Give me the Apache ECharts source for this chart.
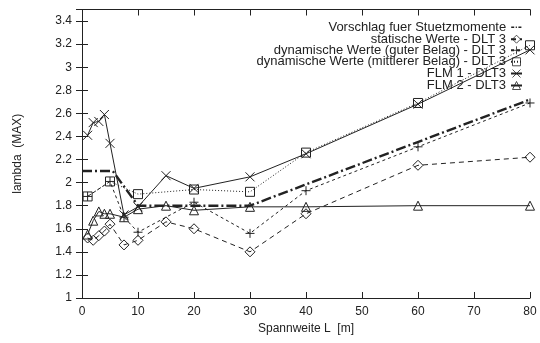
<!DOCTYPE html>
<html>
<head>
<meta charset="utf-8">
<script src="https://cdn.jsdelivr.net/npm/echarts@6/dist/echarts.min.js"></script>
<style>html,body{margin:0;padding:0;background:#fff}#c{width:540px;height:343px}</style>
</head>
<body>
<div id="c"></div>
<script>
// ---- data ----
const seriesNames = [
  'Vorschlag fuer Stuetzmomente',
  'statische Werte - DLT 3',
  'dynamische Werte (guter Belag) - DLT 3',
  'dynamische Werte (mittlerer Belag) - DLT 3',
  'FLM 1 - DLT3',
  'FLM 2 - DLT3'
];
const vorschlagX = [0, 5.5, 10, 30, 80];
const vorschlagY = [2.1, 2.1, 1.8, 1.8, 2.72];
const statischX = [1, 2, 3, 4, 5, 7.5, 10, 15, 20, 30, 40, 60, 80];
const statischY = [1.52, 1.50, 1.54, 1.58, 1.64, 1.46, 1.50, 1.66, 1.60, 1.40, 1.73, 2.15, 2.22];
const guterX = [1, 5, 7.5, 10, 20, 30, 40, 60, 80];
const guterY = [1.88, 2.01, 1.70, 1.57, 1.83, 1.56, 1.93, 2.31, 2.69];
const mittlererX = [1, 5, 10, 20, 30, 40, 60, 80];
const mittlererY = [1.88, 2.01, 1.90, 1.94, 1.92, 2.26, 2.69, 3.19];
const flm1X = [1, 2, 3, 4, 5, 7.5, 10, 15, 20, 30, 40, 60, 80];
const flm1Y = [2.41, 2.52, 2.53, 2.59, 2.34, 1.72, 1.79, 2.06, 1.95, 2.05, 2.25, 2.68, 3.15];
const flm2X = [1, 2, 3, 4, 5, 7.5, 10, 15, 20, 30, 40, 60, 80];
const flm2Y = [1.55, 1.67, 1.75, 1.73, 1.73, 1.70, 1.77, 1.80, 1.76, 1.79, 1.79, 1.80, 1.80];
const xTicks = {min: 0, max: 80, interval: 10};
const yTicks = {min: 1, max: 3.5, interval: 0.2};

// ---- build ----
const pairs = (xs, ys) => xs.map((x, i) => [x, ys[i]]);
const ink = '#222';
const font = '"Liberation Sans", Arial, Helvetica, sans-serif';
const sym = {
  plus: 'path://M5,0L5,10M0,5L10,5',
  cross: 'path://M0,0L10,10M10,0L0,10'
};
function mk(name, data, symbol, size, lineType, width, show) {
  return {
    name, type: 'line', data,
    symbol, symbolSize: size,
    showSymbol: show,
    lineStyle: {color: ink, width: width, type: lineType},
    itemStyle: {color: 'transparent', borderColor: ink, borderWidth: show ? 1 : 0},
    emphasis: {disabled: true},
    z: 3
  };
}
const series = [
  mk(seriesNames[0], pairs(vorschlagX, vorschlagY), 'circle', 1, [10, 3, 2, 3], 2.4, false),
  mk(seriesNames[1], pairs(statischX, statischY), 'diamond', 10, [5, 4], 1, true),
  mk(seriesNames[2], pairs(guterX, guterY), sym.plus, 9, [3, 3], 1, true),
  mk(seriesNames[3], pairs(mittlererX, mittlererY), 'rect', 9, [1, 2], 1, true),
  mk(seriesNames[4], pairs(flm1X, flm1Y), sym.cross, 9, 'solid', 1, true),
  mk(seriesNames[5], pairs(flm2X, flm2Y), 'triangle', 9, 'solid', 1, true)
];
const legendCenters = [25.7, 37.7, 48.8, 60.3, 72, 84];
const legends = seriesNames.map((n, i) => {
  const lg = {
    data: [n], orient: 'vertical', align: 'right', right: 17, top: legendCenters[i] - 5,
    padding: 0, itemWidth: 11, itemHeight: 10, itemGap: 0, selectedMode: false,
    itemStyle: {color: 'transparent', borderColor: i === 0 ? 'transparent' : ink, borderWidth: i === 0 ? 0 : 0.8},
    textStyle: {fontFamily: font, fontSize: 13, color: ink}
  };
  if (i === 0) lg.lineStyle = {width: 1.6, type: [3, 1.5, 1.2, 1.5]};
  return lg;
});
const axisCommon = {
  axisLine: {show: true, lineStyle: {color: ink, width: 1}},
  axisTick: {show: true, inside: true, length: 6, lineStyle: {color: ink}},
  splitLine: {show: false}
};
const option = {
  animation: false,
  backgroundColor: '#fff',
  grid: {left: 82, right: 10, top: 9.5, bottom: 45},
  legend: legends,
  xAxis: [
    Object.assign({type: 'value', position: 'bottom', min: xTicks.min, max: xTicks.max, interval: xTicks.interval,
      name: 'Spannweite L  [m]', nameLocation: 'middle', nameGap: 23,
      nameTextStyle: {fontFamily: font, fontSize: 12, color: ink},
      axisLabel: {fontFamily: font, fontSize: 12, color: ink, margin: 8}}, axisCommon),
    Object.assign({type: 'value', position: 'top', min: xTicks.min, max: xTicks.max, interval: xTicks.interval,
      axisLabel: {show: false}}, axisCommon)
  ],
  yAxis: [
    Object.assign({type: 'value', position: 'left', min: yTicks.min, max: yTicks.max, interval: yTicks.interval,
      name: 'lambda  (MAX)', nameLocation: 'middle', nameGap: 58, nameRotate: 90,
      nameTextStyle: {fontFamily: font, fontSize: 12, color: ink},
      axisLabel: {fontFamily: font, fontSize: 12, color: ink, margin: 10, showMaxLabel: false}}, axisCommon),
    Object.assign({type: 'value', position: 'right', min: yTicks.min, max: yTicks.max, interval: yTicks.interval,
      axisLabel: {show: false}}, axisCommon)
  ],
  series
};
const chart = echarts.init(document.getElementById('c'), null, {renderer: 'canvas'});
chart.setOption(option);
</script>
</body>
</html>
